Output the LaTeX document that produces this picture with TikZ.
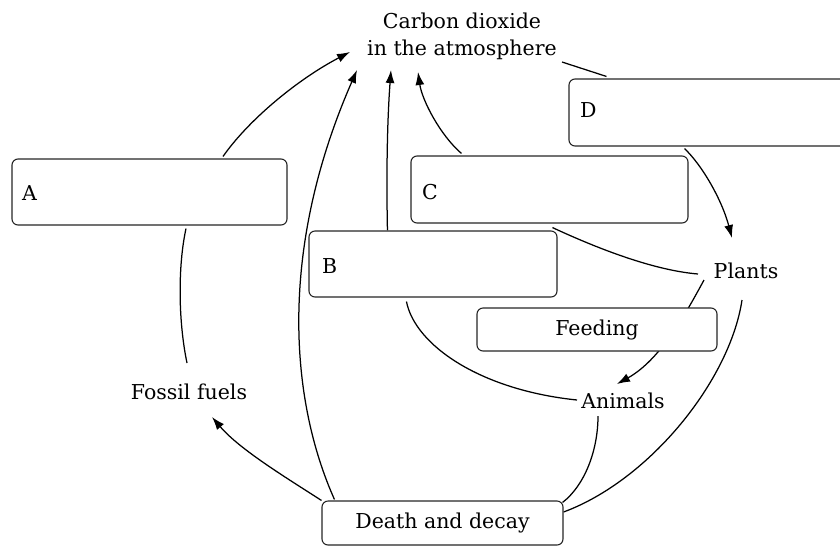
\documentclass[tikz,border=0pt]{standalone}
\usepackage{fontspec}
\setmainfont{DejaVu Serif}
\usetikzlibrary{arrows.meta,calc}
\pgfdeclarelayer{bg}
\pgfsetlayers{bg,main}
\begin{document}
\begin{tikzpicture}[x=1pt,y=-1pt,
  txt/.style={font=\fontsize{20.5}{27}\selectfont, inner sep=0pt},
  box/.style={draw=black!85, line width=1.1pt, rounded corners=6pt, fill=white, inner sep=0pt},
  conn/.style={line width=1.25pt, black},
  arr/.style={conn, -{Latex[length=13pt,width=9pt]}}]
\useasboundingbox (0,0) rectangle (840,547);
\clip (0,0) rectangle (840,547);

% boxes
\node[box, minimum width=275pt, minimum height=66pt] (A) at (149.5,192) {};
\node[txt, anchor=base west] (lA) at (22,200) {A};
\node[box, minimum width=248pt, minimum height=66pt] (B) at (433,264) {};
\node[txt, anchor=base west] (lB) at (322,273) {B};
\node[box, minimum width=277pt, minimum height=67pt] (C) at (549.5,189.5) {};
\node[txt, anchor=base west] (lC) at (422,199) {C};
\node[box, minimum width=281pt, minimum height=67pt] (D) at (709.5,112.5) {};
\node[txt, anchor=base west] (lD) at (580,117) {D};
\node[box, txt, minimum width=240pt, minimum height=43pt] (feed) at (597,329.5) {Feeding};
\node[box, txt, minimum width=241pt, minimum height=44pt] (dd) at (442.5,523) {Death and decay};

% text
\node[txt, align=center] (co2) at (462,36) {Carbon dioxide\\in the atmosphere};
\node[txt, anchor=base] (plants) at (746,278) {Plants};
\node[txt, anchor=base] (animals) at (623,408) {Animals};
\node[txt, anchor=base] (fossil) at (189,399) {Fossil fuels};

\begin{pgfonlayer}{bg}
% A -> CO2
\draw[arr] ($(A.north)+(73.5,-2)$) .. controls (250,118) and (300,78) .. ($(co2.center)+(-112,16)$);
% Fossil fuels -> A
\draw[conn] ($(fossil.base)+(-2,-36)$) .. controls (178,320) and (178,265) .. ($(A.south)+(36.5,3)$);
% Death and decay -> Fossil fuels
\draw[arr] (dd.north west) .. controls (290,480) and (240,450) .. ($(fossil.base)+(23,18)$);
% Death and decay -> CO2
\draw[arr] ($(dd.north west)+(13,-1)$) .. controls (290,400) and (278,250) .. ($(co2.center)+(-105,34)$);
% B -> CO2
\draw[arr] ($(B.north west)+(79,0)$) .. controls (386,160) and (388,110) .. ($(co2.center)+(-71,34)$);
% C -> CO2
\draw[arr] ($(C.north west)+(51,-2)$) .. controls (440,135) and (422,100) .. ($(co2.center)+(-44,36)$);
% CO2 -> D
\draw[conn] ($(co2.center)+(100,26)$) -- ($(D.north west)+(38,-2)$);
% D -> Plants
\draw[arr] ($(D.south west)+(116,2)$) .. controls (702,165) and (722,200) .. ($(plants.base)+(-14,-40)$);
% C -> Plants
\draw[conn] ($(C.south west)+(142,4)$) .. controls (590,245) and (650,270) .. ($(plants.base)+(-48,-4)$);
% Plants -> Animals (behind Feeding)
\draw[arr] ($(plants.base)+(-42,2)$) .. controls (685,315) and (660,360) .. ($(animals.base)+(-6,-24)$);
% B -> Animals
\draw[conn] ($(B.south west)+(98,4)$) .. controls (415,345) and (480,390) .. ($(animals.base)+(-46,-8)$);
% Animals -> Death and decay
\draw[conn] ($(animals.base)+(-25,8)$) .. controls (598,450) and (585,485) .. ($(dd.north east)+(-1,2)$);
% Plants -> Death and decay
\draw[conn] ($(plants.base)+(-4,22)$) .. controls (730,380) and (650,480) .. ($(dd.east)+(0,-11)$);
\end{pgfonlayer}
\end{tikzpicture}
\end{document}
